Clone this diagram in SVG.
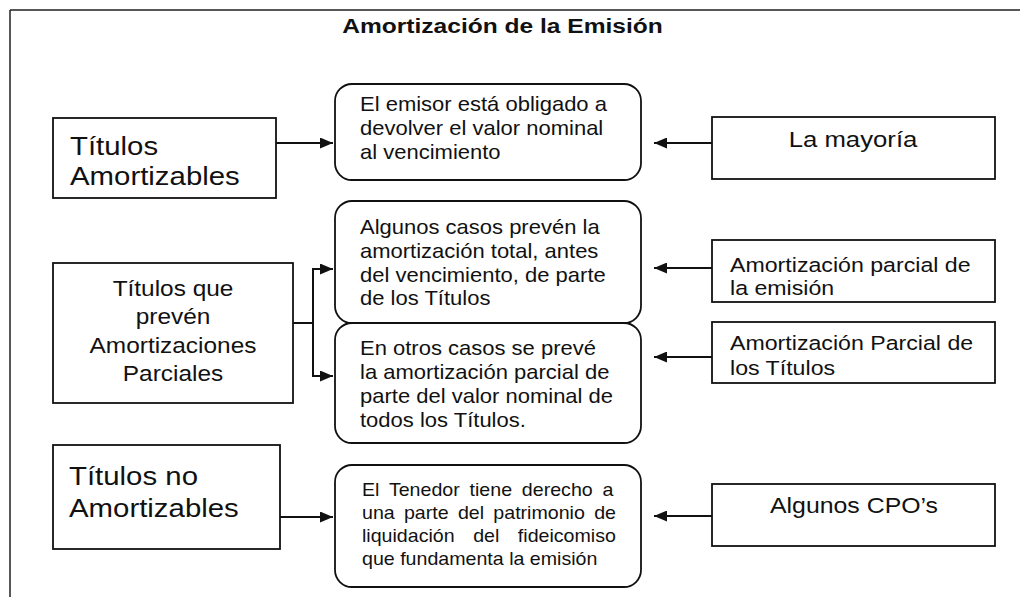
<svg xmlns="http://www.w3.org/2000/svg" width="1026" height="602" viewBox="0 0 1026 602">
<defs>
<style>
text{font-family:"Liberation Sans",Arial,Helvetica,sans-serif;fill:#111;}
.box{fill:#fff;stroke:#111;stroke-width:1.8;}
.rbox{fill:#fff;stroke:#111;stroke-width:1.8;}
.con{fill:none;stroke:#111;stroke-width:2;}
.frame{fill:none;stroke:#222;stroke-width:1.5;}
.title{font-size:21px;font-weight:bold;text-anchor:middle;}
.big{font-size:26px;}
.mid{font-size:22.5px;text-anchor:middle;}
.body{font-size:20px;}
.small{font-size:18px;}
.rt{font-size:20.5px;}
.rc{font-size:22px;text-anchor:middle;}
</style>
<marker id="ah" markerUnits="userSpaceOnUse" markerWidth="13" markerHeight="11" refX="13" refY="5.5" orient="auto">
<path d="M0,0 L13,5.5 L0,11 z" fill="#111"/>
</marker>
</defs>
<rect width="1026" height="602" fill="#fff"/>
<g id="frame">
<path class="frame" d="M10,10 H1020 M10,10 V597"/>
</g>
<g id="title">
<text class="title" transform="translate(502.5 0) scale(1.17 1)" x="0" y="33">Amortización de la Emisión</text>
</g>
<g id="connectors">
<line class="con" x1="276" y1="143" x2="333" y2="143" marker-end="url(#ah)"/>
<line class="con" x1="712" y1="143" x2="654" y2="143" marker-end="url(#ah)"/>
<path class="con" d="M293,323 H313 M313,269 V376"/>
<line class="con" x1="312" y1="269" x2="333" y2="269" marker-end="url(#ah)"/>
<line class="con" x1="312" y1="376" x2="333" y2="376" marker-end="url(#ah)"/>
<line class="con" x1="712" y1="268" x2="654" y2="268" marker-end="url(#ah)"/>
<line class="con" x1="712" y1="357" x2="654" y2="357" marker-end="url(#ah)"/>
<line class="con" x1="280" y1="517" x2="333" y2="517" marker-end="url(#ah)"/>
<line class="con" x1="712" y1="516" x2="654" y2="516" marker-end="url(#ah)"/>
</g>
<g id="n-titulos-amortizables">
<rect class="box" x="53" y="118" width="223" height="80"/>
<text class="big" transform="translate(70 0) scale(1.13 1)"><tspan x="0" y="155">Títulos</tspan><tspan x="0" y="185">Amortizables</tspan></text>
</g>
<g id="n-titulos-parciales">
<rect class="box" x="53" y="263" width="240" height="140"/>
<text class="mid" transform="translate(173 0) scale(1.085 1)"><tspan x="0" y="296">Títulos que</tspan><tspan x="0" y="324">prevén</tspan><tspan x="0" y="353">Amortizaciones</tspan><tspan x="0" y="381">Parciales</tspan></text>
</g>
<g id="n-titulos-no">
<rect class="box" x="53" y="445" width="227" height="104"/>
<text class="big" transform="translate(69 0) scale(1.13 1)"><tspan x="0" y="485">Títulos no</tspan><tspan x="0" y="517">Amortizables</tspan></text>
</g>
<g id="n-emisor">
<rect class="rbox" x="335" y="84" width="306" height="96" rx="17"/>
<text class="body" transform="translate(360 0) scale(1.1 1)"><tspan x="0" y="111">El emisor está obligado a</tspan><tspan x="0" y="135">devolver el valor nominal</tspan><tspan x="0" y="159">al vencimiento</tspan></text>
</g>
<g id="n-algunos-casos">
<rect class="rbox" x="335" y="201" width="306" height="122" rx="17"/>
<text class="body" transform="translate(360 0) scale(1.1 1)"><tspan x="0" y="234">Algunos casos prevén la</tspan><tspan x="0" y="258">amortización total, antes</tspan><tspan x="0" y="282">del vencimiento, de parte</tspan><tspan x="0" y="305">de los Títulos</tspan></text>
</g>
<g id="n-otros-casos">
<rect class="rbox" x="335" y="323" width="306" height="120" rx="17"/>
<text class="body" transform="translate(360 0) scale(1.1 1)"><tspan x="0" y="355">En otros casos se prevé</tspan><tspan x="0" y="379">la amortización parcial de</tspan><tspan x="0" y="403">parte del valor nominal de</tspan><tspan x="0" y="427">todos los Títulos.</tspan></text>
</g>
<g id="n-tenedor">
<rect class="rbox" x="335" y="465" width="306" height="122" rx="17"/>
<text class="small" transform="translate(362 0) scale(1.09 1)"><tspan x="0" y="496" word-spacing="4">El Tenedor tiene derecho a</tspan><tspan x="0" y="519" word-spacing="3.5">una parte del patrimonio de</tspan><tspan x="0" y="542" word-spacing="12">liquidación del fideicomiso</tspan><tspan x="0" y="565">que fundamenta la emisión</tspan></text>
</g>
<g id="n-mayoria">
<rect class="box" x="712" y="117" width="283" height="62"/>
<text class="rc" transform="translate(853 0) scale(1.17 1)" x="0" y="147">La mayoría</text>
</g>
<g id="n-parcial-emision">
<rect class="box" x="712" y="240" width="283" height="62"/>
<text class="rt" transform="translate(730 0) scale(1.13 1)"><tspan x="0" y="272">Amortización parcial de</tspan><tspan x="0" y="295">la emisión</tspan></text>
</g>
<g id="n-parcial-titulos">
<rect class="box" x="712" y="322" width="283" height="61"/>
<text class="rt" transform="translate(730 0) scale(1.13 1)"><tspan x="0" y="350">Amortización Parcial de</tspan><tspan x="0" y="375">los Títulos</tspan></text>
</g>
<g id="n-cpo">
<rect class="box" x="712" y="484" width="283" height="62"/>
<text class="rc" transform="translate(854 0) scale(1.13 1)" x="0" y="513">Algunos CPO’s</text>
</g>
</svg>
